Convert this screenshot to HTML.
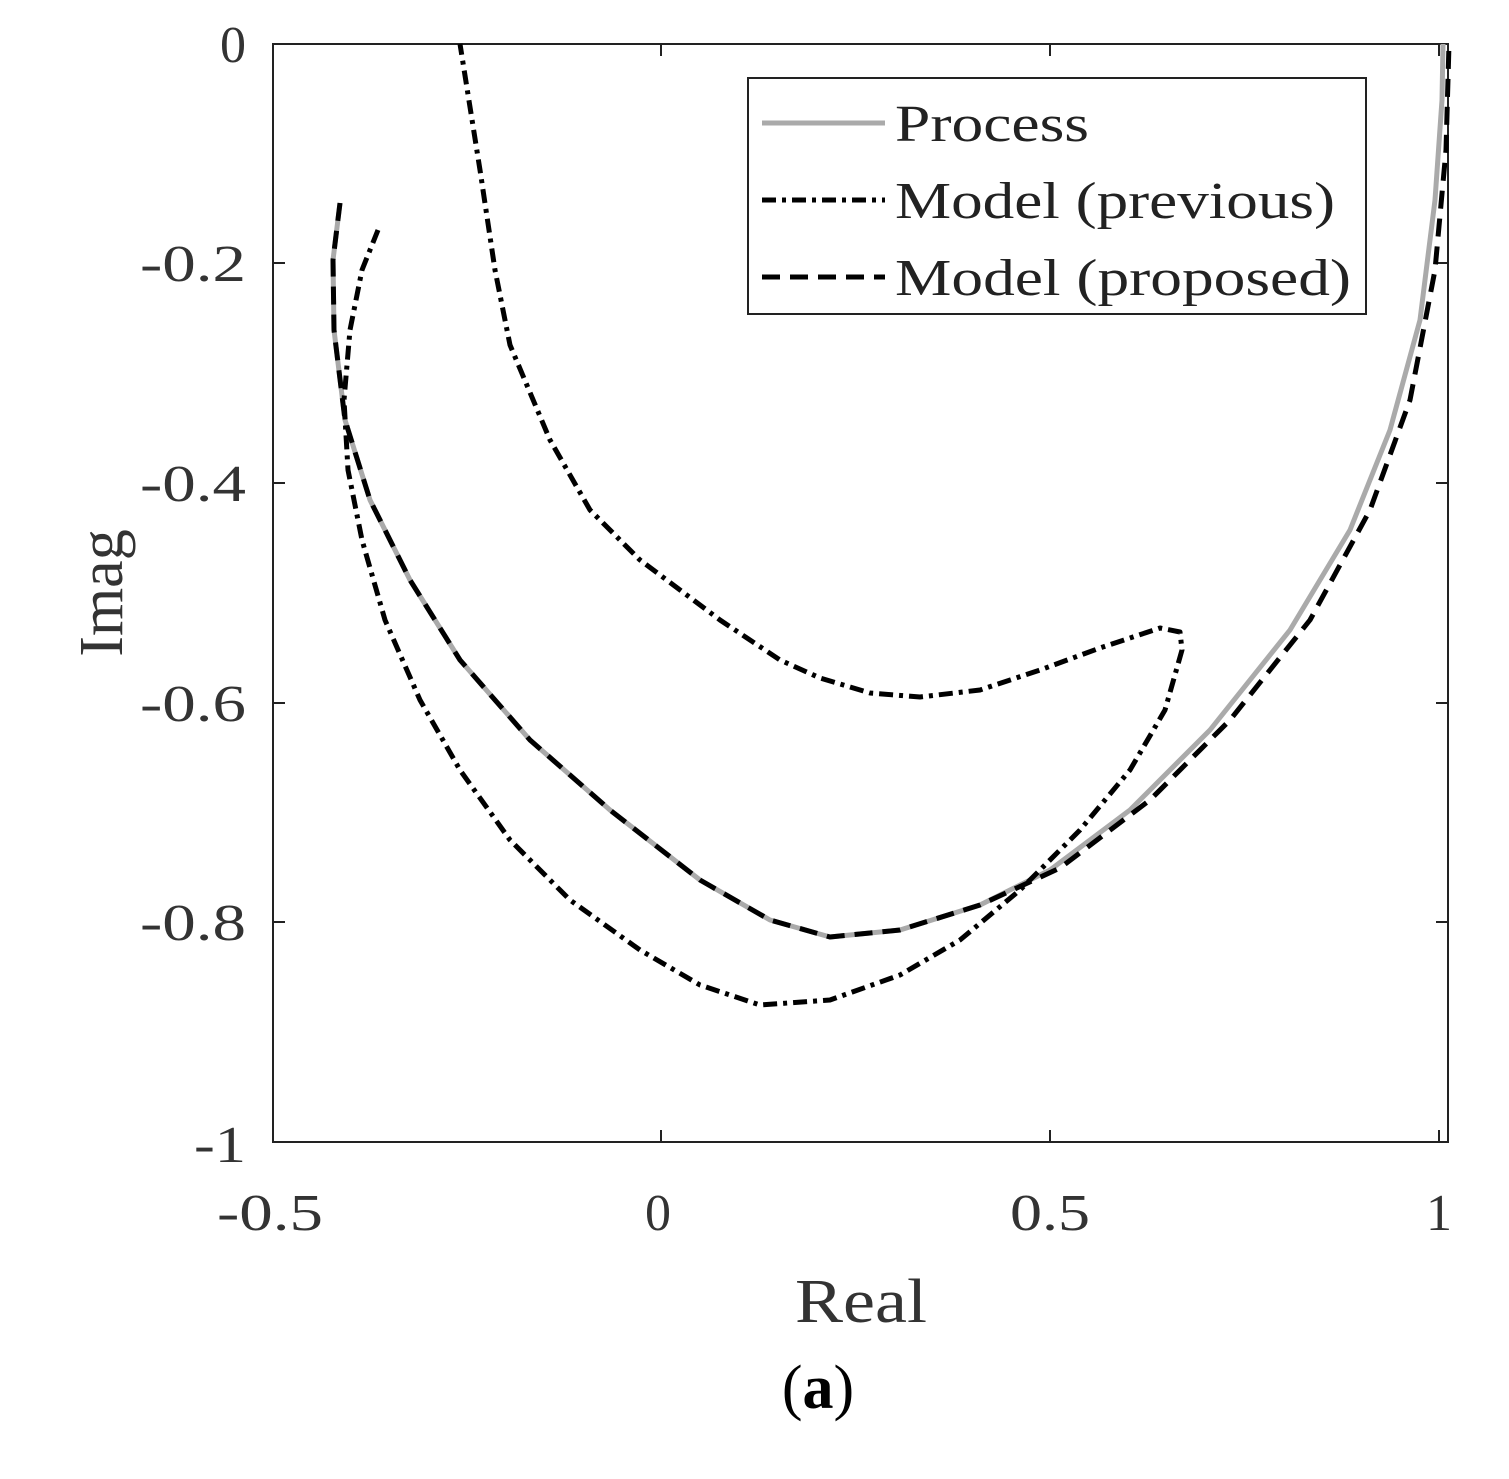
<!DOCTYPE html>
<html><head><style>body{margin:0;background:#fff}svg{display:block}</style></head><body>
<svg width="1509" height="1479" xmlns="http://www.w3.org/2000/svg" font-family="Liberation Serif, serif" fill="#333">
<rect x="273" y="44" width="1175" height="1098" fill="none" stroke="#222" stroke-width="2"/>
<g stroke="#222" stroke-width="2">
<line x1="661" y1="1142" x2="661" y2="1130"/><line x1="1050" y1="1142" x2="1050" y2="1130"/><line x1="1439" y1="1142" x2="1439" y2="1130"/>
<line x1="661" y1="44" x2="661" y2="56"/><line x1="1050" y1="44" x2="1050" y2="56"/><line x1="1439" y1="44" x2="1439" y2="56"/>
<line x1="273" y1="263" x2="285" y2="263"/><line x1="273" y1="483" x2="285" y2="483"/><line x1="273" y1="703" x2="285" y2="703"/><line x1="273" y1="922" x2="285" y2="922"/>
<line x1="1448" y1="263" x2="1436" y2="263"/><line x1="1448" y1="483" x2="1436" y2="483"/><line x1="1448" y1="703" x2="1436" y2="703"/><line x1="1448" y1="922" x2="1436" y2="922"/>
</g>
<g font-size="52" text-anchor="end">
<text x="246" y="62">0</text>
<text x="246" y="281" textLength="106" lengthAdjust="spacingAndGlyphs">-0.2</text>
<text x="246" y="501" textLength="106" lengthAdjust="spacingAndGlyphs">-0.4</text>
<text x="246" y="721" textLength="106" lengthAdjust="spacingAndGlyphs">-0.6</text>
<text x="246" y="940" textLength="106" lengthAdjust="spacingAndGlyphs">-0.8</text>
<text x="246" y="1162" textLength="52" lengthAdjust="spacingAndGlyphs">-1</text>
</g>
<g font-size="52">
<text x="217" y="1230" textLength="106" lengthAdjust="spacingAndGlyphs">-0.5</text>
<text x="645" y="1230">0</text>
<text x="1010" y="1230" textLength="80" lengthAdjust="spacingAndGlyphs">0.5</text>
<text x="1426" y="1230">1</text>
</g>
<text x="795" y="1322" font-size="62" textLength="132" lengthAdjust="spacingAndGlyphs">Real</text>
<text transform="translate(122,593) rotate(-90)" font-size="62" text-anchor="middle">Imag</text>
<text x="818" y="1408" font-size="62" text-anchor="middle" fill="#000">(<tspan font-weight="bold">a</tspan>)</text>
<g fill="none" stroke-linejoin="round">
<polyline points="340,203 333,260 334,330 345,420 370,500 410,580 460,660 530,740 610,810 700,880 770,920 830,937 900,930 980,905 1050,870 1130,810 1210,730 1290,630 1350,530 1390,430 1420,320 1435,200 1442,100 1443,44" stroke="#aaa" stroke-width="5"/>
<polyline points="340,203 333,260 334,330 345,420 370,500 410,580 460,660 530,740 610,810 700,880 770,920 830,937 900,930 980,905 1060,868 1150,800 1230,720 1310,620 1370,510 1410,400 1435,270 1446,150 1449,44" stroke="#000" stroke-width="5" stroke-dasharray="18,10"/>
<polyline points="378,230 362,270 350,330 344,400 348,470 362,540 385,620 420,700 460,770 510,840 570,900 640,950 700,985 760,1005 830,1000 900,975 960,940 1020,890 1080,830 1130,770 1165,710 1182,650 1180,632 1160,628 1100,648 1040,670 980,690 920,697 870,693 820,678 780,660 720,620 640,560 590,510 550,440 510,345 495,270 480,170 460,44" stroke="#000" stroke-width="5" stroke-dasharray="14,6,4,6"/>
</g>
<rect x="748" y="78" width="618" height="236" fill="#fff" stroke="#222" stroke-width="2"/>
<line x1="762" y1="123" x2="885" y2="123" stroke="#aaa" stroke-width="5"/>
<line x1="762" y1="200" x2="885" y2="200" stroke="#000" stroke-width="5" stroke-dasharray="14,6,4,6"/>
<line x1="762" y1="277" x2="885" y2="277" stroke="#000" stroke-width="5" stroke-dasharray="18,10"/>
<g font-size="52" fill="#222">
<text x="895" y="141" textLength="194" lengthAdjust="spacingAndGlyphs">Process</text>
<text x="895" y="218" textLength="440" lengthAdjust="spacingAndGlyphs">Model (previous)</text>
<text x="895" y="295" textLength="456" lengthAdjust="spacingAndGlyphs">Model (proposed)</text>
</g>
</svg>
</body></html>
